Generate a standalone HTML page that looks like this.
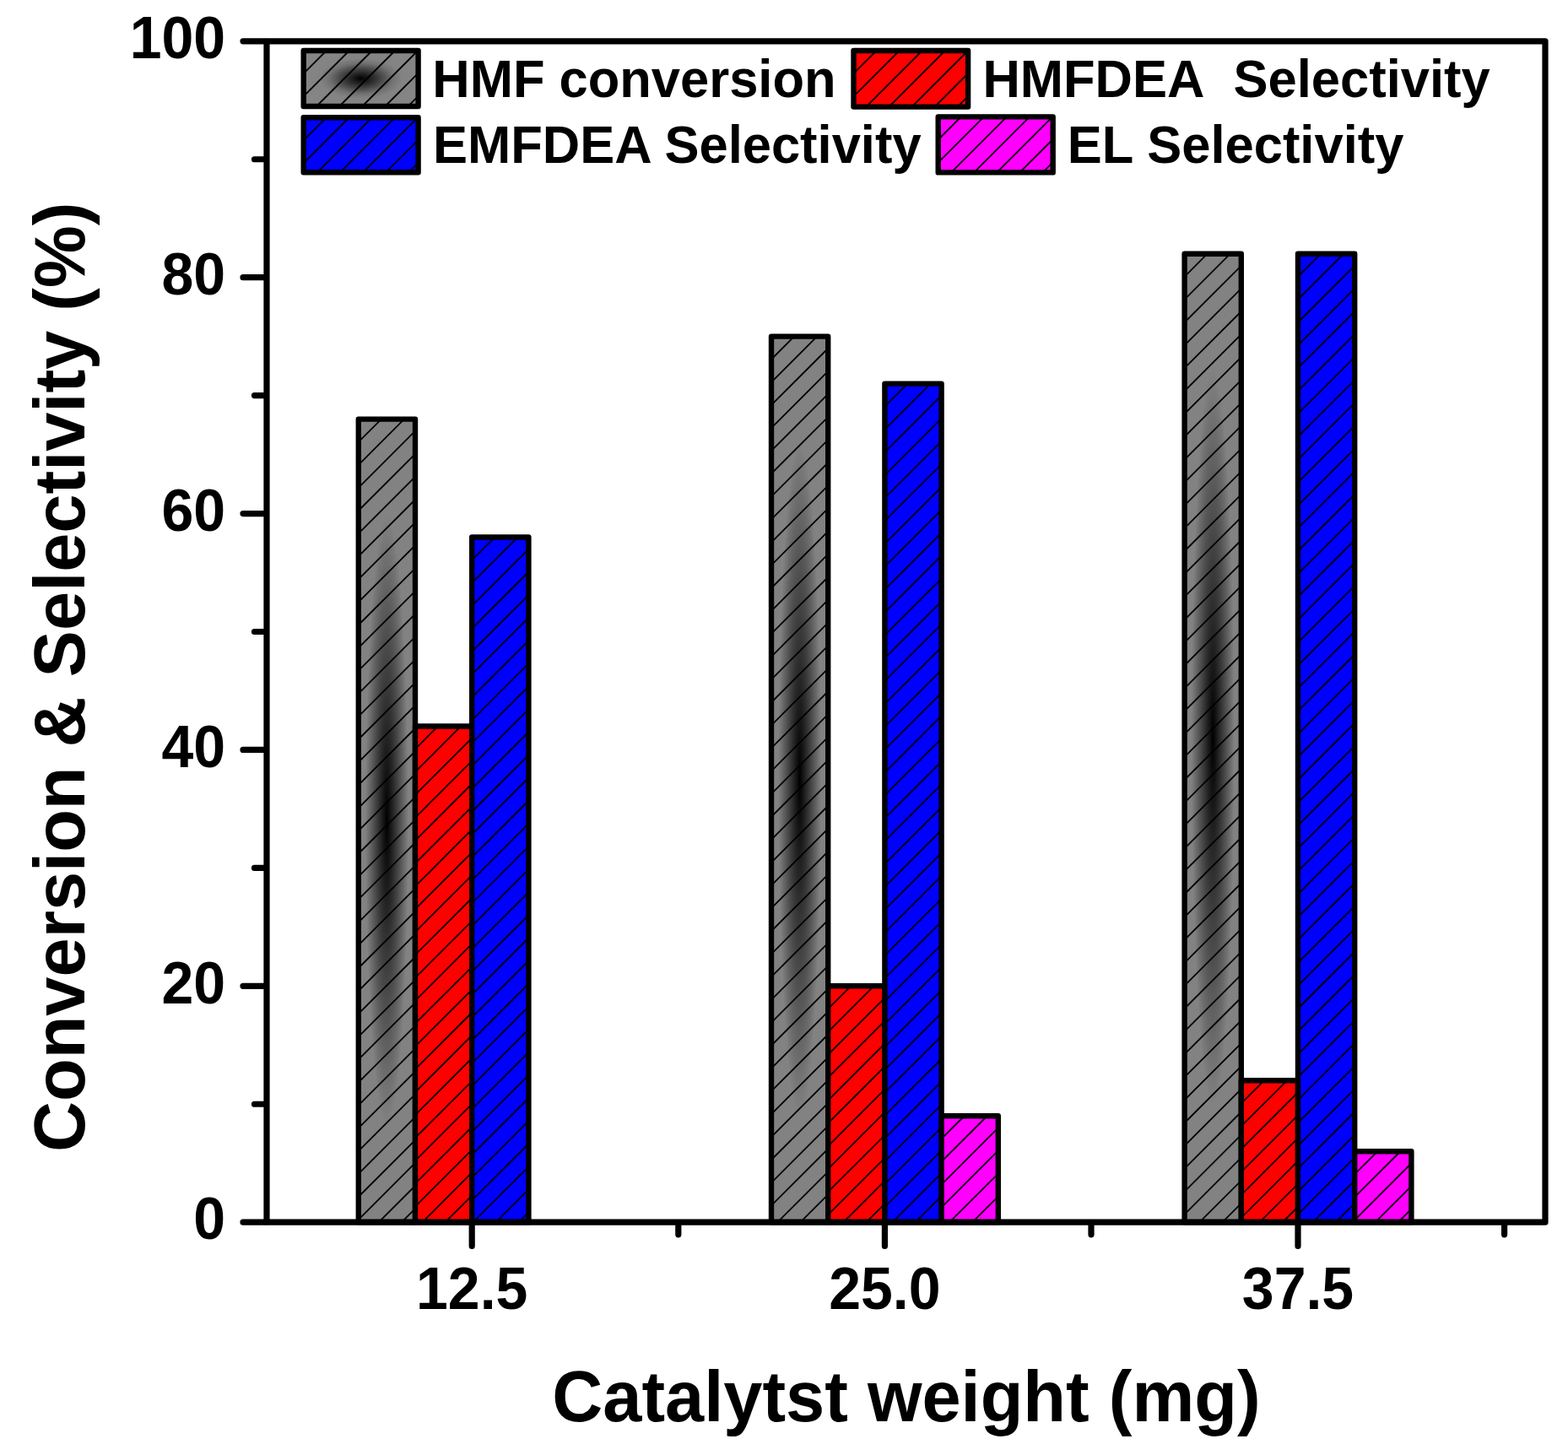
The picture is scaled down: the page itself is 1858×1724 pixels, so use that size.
<!DOCTYPE html>
<html><head><meta charset="utf-8"><title>Conversion &amp; Selectivity vs Catalyst weight</title>
<style>
html,body{margin:0;padding:0;background:#fff;}
svg{display:block;}
text{font-family:"Liberation Sans",Arial,sans-serif;font-weight:bold;fill:#000;}
</style></head><body>
<svg width="1858" height="1724" viewBox="0 0 1858 1724">
<defs>
<radialGradient id="gg" cx="0.5" cy="0.5" r="0.5" gradientUnits="objectBoundingBox" gradientTransform="translate(0.5 0.5) scale(1.0 1.0) translate(-0.5 -0.5)">
<stop offset="0" stop-color="#000"/>
<stop offset="0.38" stop-color="#414141"/>
<stop offset="0.76" stop-color="#828282"/>
<stop offset="1" stop-color="#828282"/>
</radialGradient>
<radialGradient id="gl" cx="0.5" cy="0.5" r="0.5" gradientUnits="objectBoundingBox">
<stop offset="0" stop-color="#000"/>
<stop offset="0.33" stop-color="#414141"/>
<stop offset="0.55" stop-color="#717171"/>
<stop offset="0.72" stop-color="#838383"/>
<stop offset="1" stop-color="#858585"/>
</radialGradient>
</defs>
<rect width="1858" height="1724" fill="#fff"/>
<rect x="424.80" y="496.61" width="67.20" height="951.59" fill="url(#gg)"/>
<path d="M451.90 496.61L424.80 523.71M479.00 496.61L424.80 550.81M424.80 577.91L492.00 510.71M424.80 605.01L492.00 537.81M424.80 632.11L492.00 564.91M424.80 659.21L492.00 592.01M424.80 686.31L492.00 619.11M424.80 713.41L492.00 646.21M424.80 740.51L492.00 673.31M424.80 767.61L492.00 700.41M424.80 794.71L492.00 727.51M424.80 821.81L492.00 754.61M424.80 848.91L492.00 781.71M424.80 876.01L492.00 808.81M424.80 903.11L492.00 835.91M424.80 930.21L492.00 863.01M424.80 957.31L492.00 890.11M424.80 984.41L492.00 917.21M424.80 1011.51L492.00 944.31M424.80 1038.61L492.00 971.41M424.80 1065.71L492.00 998.51M424.80 1092.81L492.00 1025.61M424.80 1119.91L492.00 1052.71M424.80 1147.01L492.00 1079.81M424.80 1174.11L492.00 1106.91M424.80 1201.21L492.00 1134.01M424.80 1228.31L492.00 1161.11M424.80 1255.41L492.00 1188.21M424.80 1282.51L492.00 1215.31M424.80 1309.61L492.00 1242.41M424.80 1336.71L492.00 1269.51M424.80 1363.81L492.00 1296.61M424.80 1390.91L492.00 1323.71M424.80 1418.01L492.00 1350.81M424.80 1445.11L492.00 1377.91M448.81 1448.20L492.00 1405.01M475.91 1448.20L492.00 1432.11" stroke="#000" stroke-width="1.8" fill="none"/>
<rect x="424.80" y="496.61" width="67.20" height="951.59" fill="none" stroke="#000" stroke-width="6.4" stroke-linejoin="round"/>
<rect x="492.00" y="860.45" width="67.20" height="587.75" fill="#ff0000"/>
<path d="M519.10 860.45L492.00 887.55M546.20 860.45L492.00 914.65M492.00 941.75L559.20 874.55M492.00 968.85L559.20 901.65M492.00 995.95L559.20 928.75M492.00 1023.05L559.20 955.85M492.00 1050.15L559.20 982.95M492.00 1077.25L559.20 1010.05M492.00 1104.35L559.20 1037.15M492.00 1131.45L559.20 1064.25M492.00 1158.55L559.20 1091.35M492.00 1185.65L559.20 1118.45M492.00 1212.75L559.20 1145.55M492.00 1239.85L559.20 1172.65M492.00 1266.95L559.20 1199.75M492.00 1294.05L559.20 1226.85M492.00 1321.15L559.20 1253.95M492.00 1348.25L559.20 1281.05M492.00 1375.35L559.20 1308.15M492.00 1402.45L559.20 1335.25M492.00 1429.55L559.20 1362.35M500.45 1448.20L559.20 1389.45M527.55 1448.20L559.20 1416.55M554.65 1448.20L559.20 1443.65" stroke="#000" stroke-width="1.8" fill="none"/>
<rect x="492.00" y="860.45" width="67.20" height="587.75" fill="none" stroke="#000" stroke-width="6.4" stroke-linejoin="round"/>
<rect x="559.20" y="636.55" width="67.20" height="811.65" fill="#0000ff"/>
<path d="M586.30 636.55L559.20 663.65M613.40 636.55L559.20 690.75M559.20 717.85L626.40 650.65M559.20 744.95L626.40 677.75M559.20 772.05L626.40 704.85M559.20 799.15L626.40 731.95M559.20 826.25L626.40 759.05M559.20 853.35L626.40 786.15M559.20 880.45L626.40 813.25M559.20 907.55L626.40 840.35M559.20 934.65L626.40 867.45M559.20 961.75L626.40 894.55M559.20 988.85L626.40 921.65M559.20 1015.95L626.40 948.75M559.20 1043.05L626.40 975.85M559.20 1070.15L626.40 1002.95M559.20 1097.25L626.40 1030.05M559.20 1124.35L626.40 1057.15M559.20 1151.45L626.40 1084.25M559.20 1178.55L626.40 1111.35M559.20 1205.65L626.40 1138.45M559.20 1232.75L626.40 1165.55M559.20 1259.85L626.40 1192.65M559.20 1286.95L626.40 1219.75M559.20 1314.05L626.40 1246.85M559.20 1341.15L626.40 1273.95M559.20 1368.25L626.40 1301.05M559.20 1395.35L626.40 1328.15M559.20 1422.45L626.40 1355.25M560.55 1448.20L626.40 1382.35M587.65 1448.20L626.40 1409.45M614.75 1448.20L626.40 1436.55" stroke="#000" stroke-width="1.8" fill="none"/>
<rect x="559.20" y="636.55" width="67.20" height="811.65" fill="none" stroke="#000" stroke-width="6.4" stroke-linejoin="round"/>
<rect x="914.00" y="398.65" width="67.20" height="1049.55" fill="url(#gg)"/>
<path d="M941.10 398.65L914.00 425.75M968.20 398.65L914.00 452.85M914.00 479.95L981.20 412.75M914.00 507.05L981.20 439.85M914.00 534.15L981.20 466.95M914.00 561.25L981.20 494.05M914.00 588.35L981.20 521.15M914.00 615.45L981.20 548.25M914.00 642.55L981.20 575.35M914.00 669.65L981.20 602.45M914.00 696.75L981.20 629.55M914.00 723.85L981.20 656.65M914.00 750.95L981.20 683.75M914.00 778.05L981.20 710.85M914.00 805.15L981.20 737.95M914.00 832.25L981.20 765.05M914.00 859.35L981.20 792.15M914.00 886.45L981.20 819.25M914.00 913.55L981.20 846.35M914.00 940.65L981.20 873.45M914.00 967.75L981.20 900.55M914.00 994.85L981.20 927.65M914.00 1021.95L981.20 954.75M914.00 1049.05L981.20 981.85M914.00 1076.15L981.20 1008.95M914.00 1103.25L981.20 1036.05M914.00 1130.35L981.20 1063.15M914.00 1157.45L981.20 1090.25M914.00 1184.55L981.20 1117.35M914.00 1211.65L981.20 1144.45M914.00 1238.75L981.20 1171.55M914.00 1265.85L981.20 1198.65M914.00 1292.95L981.20 1225.75M914.00 1320.05L981.20 1252.85M914.00 1347.15L981.20 1279.95M914.00 1374.25L981.20 1307.05M914.00 1401.35L981.20 1334.15M914.00 1428.45L981.20 1361.25M921.35 1448.20L981.20 1388.35M948.45 1448.20L981.20 1415.45M975.55 1448.20L981.20 1442.55" stroke="#000" stroke-width="1.8" fill="none"/>
<rect x="914.00" y="398.65" width="67.20" height="1049.55" fill="none" stroke="#000" stroke-width="6.4" stroke-linejoin="round"/>
<rect x="981.20" y="1168.32" width="67.20" height="279.88" fill="#ff0000"/>
<path d="M1008.30 1168.32L981.20 1195.42M1035.40 1168.32L981.20 1222.52M981.20 1249.62L1048.40 1182.42M981.20 1276.72L1048.40 1209.52M981.20 1303.82L1048.40 1236.62M981.20 1330.92L1048.40 1263.72M981.20 1358.02L1048.40 1290.82M981.20 1385.12L1048.40 1317.92M981.20 1412.22L1048.40 1345.02M981.20 1439.32L1048.40 1372.12M999.42 1448.20L1048.40 1399.22M1026.52 1448.20L1048.40 1426.32" stroke="#000" stroke-width="1.8" fill="none"/>
<rect x="981.20" y="1168.32" width="67.20" height="279.88" fill="none" stroke="#000" stroke-width="6.4" stroke-linejoin="round"/>
<rect x="1048.40" y="454.63" width="67.20" height="993.57" fill="#0000ff"/>
<path d="M1075.50 454.63L1048.40 481.73M1102.60 454.63L1048.40 508.83M1048.40 535.93L1115.60 468.73M1048.40 563.03L1115.60 495.83M1048.40 590.13L1115.60 522.93M1048.40 617.23L1115.60 550.03M1048.40 644.33L1115.60 577.13M1048.40 671.43L1115.60 604.23M1048.40 698.53L1115.60 631.33M1048.40 725.63L1115.60 658.43M1048.40 752.73L1115.60 685.53M1048.40 779.83L1115.60 712.63M1048.40 806.93L1115.60 739.73M1048.40 834.03L1115.60 766.83M1048.40 861.13L1115.60 793.93M1048.40 888.23L1115.60 821.03M1048.40 915.33L1115.60 848.13M1048.40 942.43L1115.60 875.23M1048.40 969.53L1115.60 902.33M1048.40 996.63L1115.60 929.43M1048.40 1023.73L1115.60 956.53M1048.40 1050.83L1115.60 983.63M1048.40 1077.93L1115.60 1010.73M1048.40 1105.03L1115.60 1037.83M1048.40 1132.13L1115.60 1064.93M1048.40 1159.23L1115.60 1092.03M1048.40 1186.33L1115.60 1119.13M1048.40 1213.43L1115.60 1146.23M1048.40 1240.53L1115.60 1173.33M1048.40 1267.63L1115.60 1200.43M1048.40 1294.73L1115.60 1227.53M1048.40 1321.83L1115.60 1254.63M1048.40 1348.93L1115.60 1281.73M1048.40 1376.03L1115.60 1308.83M1048.40 1403.13L1115.60 1335.93M1048.40 1430.23L1115.60 1363.03M1057.53 1448.20L1115.60 1390.13M1084.63 1448.20L1115.60 1417.23M1111.73 1448.20L1115.60 1444.33" stroke="#000" stroke-width="1.8" fill="none"/>
<rect x="1048.40" y="454.63" width="67.20" height="993.57" fill="none" stroke="#000" stroke-width="6.4" stroke-linejoin="round"/>
<rect x="1115.60" y="1322.25" width="67.20" height="125.95" fill="#ff00ff"/>
<path d="M1142.70 1322.25L1115.60 1349.35M1169.80 1322.25L1115.60 1376.45M1115.60 1403.55L1182.80 1336.35M1115.60 1430.65L1182.80 1363.45M1125.15 1448.20L1182.80 1390.55M1152.25 1448.20L1182.80 1417.65M1179.35 1448.20L1182.80 1444.75" stroke="#000" stroke-width="1.8" fill="none"/>
<rect x="1115.60" y="1322.25" width="67.20" height="125.95" fill="none" stroke="#000" stroke-width="6.4" stroke-linejoin="round"/>
<rect x="1403.60" y="300.69" width="67.20" height="1147.51" fill="url(#gg)"/>
<path d="M1430.70 300.69L1403.60 327.79M1457.80 300.69L1403.60 354.89M1403.60 381.99L1470.80 314.79M1403.60 409.09L1470.80 341.89M1403.60 436.19L1470.80 368.99M1403.60 463.29L1470.80 396.09M1403.60 490.39L1470.80 423.19M1403.60 517.49L1470.80 450.29M1403.60 544.59L1470.80 477.39M1403.60 571.69L1470.80 504.49M1403.60 598.79L1470.80 531.59M1403.60 625.89L1470.80 558.69M1403.60 652.99L1470.80 585.79M1403.60 680.09L1470.80 612.89M1403.60 707.19L1470.80 639.99M1403.60 734.29L1470.80 667.09M1403.60 761.39L1470.80 694.19M1403.60 788.49L1470.80 721.29M1403.60 815.59L1470.80 748.39M1403.60 842.69L1470.80 775.49M1403.60 869.79L1470.80 802.59M1403.60 896.89L1470.80 829.69M1403.60 923.99L1470.80 856.79M1403.60 951.09L1470.80 883.89M1403.60 978.19L1470.80 910.99M1403.60 1005.29L1470.80 938.09M1403.60 1032.39L1470.80 965.19M1403.60 1059.49L1470.80 992.29M1403.60 1086.59L1470.80 1019.39M1403.60 1113.69L1470.80 1046.49M1403.60 1140.79L1470.80 1073.59M1403.60 1167.89L1470.80 1100.69M1403.60 1194.99L1470.80 1127.79M1403.60 1222.09L1470.80 1154.89M1403.60 1249.19L1470.80 1181.99M1403.60 1276.29L1470.80 1209.09M1403.60 1303.39L1470.80 1236.19M1403.60 1330.49L1470.80 1263.29M1403.60 1357.59L1470.80 1290.39M1403.60 1384.69L1470.80 1317.49M1403.60 1411.79L1470.80 1344.59M1403.60 1438.89L1470.80 1371.69M1421.39 1448.20L1470.80 1398.79M1448.49 1448.20L1470.80 1425.89" stroke="#000" stroke-width="1.8" fill="none"/>
<rect x="1403.60" y="300.69" width="67.20" height="1147.51" fill="none" stroke="#000" stroke-width="6.4" stroke-linejoin="round"/>
<rect x="1470.80" y="1280.27" width="67.20" height="167.93" fill="#ff0000"/>
<path d="M1497.90 1280.27L1470.80 1307.37M1525.00 1280.27L1470.80 1334.47M1470.80 1361.57L1538.00 1294.37M1470.80 1388.67L1538.00 1321.47M1470.80 1415.77L1538.00 1348.57M1470.80 1442.87L1538.00 1375.67M1492.57 1448.20L1538.00 1402.77M1519.67 1448.20L1538.00 1429.87" stroke="#000" stroke-width="1.8" fill="none"/>
<rect x="1470.80" y="1280.27" width="67.20" height="167.93" fill="none" stroke="#000" stroke-width="6.4" stroke-linejoin="round"/>
<rect x="1538.00" y="300.69" width="67.20" height="1147.51" fill="#0000ff"/>
<path d="M1565.10 300.69L1538.00 327.79M1592.20 300.69L1538.00 354.89M1538.00 381.99L1605.20 314.79M1538.00 409.09L1605.20 341.89M1538.00 436.19L1605.20 368.99M1538.00 463.29L1605.20 396.09M1538.00 490.39L1605.20 423.19M1538.00 517.49L1605.20 450.29M1538.00 544.59L1605.20 477.39M1538.00 571.69L1605.20 504.49M1538.00 598.79L1605.20 531.59M1538.00 625.89L1605.20 558.69M1538.00 652.99L1605.20 585.79M1538.00 680.09L1605.20 612.89M1538.00 707.19L1605.20 639.99M1538.00 734.29L1605.20 667.09M1538.00 761.39L1605.20 694.19M1538.00 788.49L1605.20 721.29M1538.00 815.59L1605.20 748.39M1538.00 842.69L1605.20 775.49M1538.00 869.79L1605.20 802.59M1538.00 896.89L1605.20 829.69M1538.00 923.99L1605.20 856.79M1538.00 951.09L1605.20 883.89M1538.00 978.19L1605.20 910.99M1538.00 1005.29L1605.20 938.09M1538.00 1032.39L1605.20 965.19M1538.00 1059.49L1605.20 992.29M1538.00 1086.59L1605.20 1019.39M1538.00 1113.69L1605.20 1046.49M1538.00 1140.79L1605.20 1073.59M1538.00 1167.89L1605.20 1100.69M1538.00 1194.99L1605.20 1127.79M1538.00 1222.09L1605.20 1154.89M1538.00 1249.19L1605.20 1181.99M1538.00 1276.29L1605.20 1209.09M1538.00 1303.39L1605.20 1236.19M1538.00 1330.49L1605.20 1263.29M1538.00 1357.59L1605.20 1290.39M1538.00 1384.69L1605.20 1317.49M1538.00 1411.79L1605.20 1344.59M1538.00 1438.89L1605.20 1371.69M1555.79 1448.20L1605.20 1398.79M1582.89 1448.20L1605.20 1425.89" stroke="#000" stroke-width="1.8" fill="none"/>
<rect x="1538.00" y="300.69" width="67.20" height="1147.51" fill="none" stroke="#000" stroke-width="6.4" stroke-linejoin="round"/>
<rect x="1605.20" y="1364.24" width="67.20" height="83.96" fill="#ff00ff"/>
<path d="M1632.30 1364.24L1605.20 1391.34M1659.40 1364.24L1605.20 1418.44M1605.20 1445.54L1672.40 1378.34M1629.64 1448.20L1672.40 1405.44M1656.74 1448.20L1672.40 1432.54" stroke="#000" stroke-width="1.8" fill="none"/>
<rect x="1605.20" y="1364.24" width="67.20" height="83.96" fill="none" stroke="#000" stroke-width="6.4" stroke-linejoin="round"/>
<rect x="316.0" y="48.8" width="1515.0" height="1399.4" fill="none" stroke="#000" stroke-width="7.2" stroke-linejoin="round"/>
<path d="M314.0 1448.20H288.0M314.0 1308.26H301.5M314.0 1168.32H288.0M314.0 1028.38H301.5M314.0 888.44H288.0M314.0 748.50H301.5M314.0 608.56H288.0M314.0 468.62H301.5M314.0 328.68H288.0M314.0 188.74H301.5M314.0 48.80H288.0M559.20 1450.2V1476.5M1048.40 1450.2V1476.5M1538.00 1450.2V1476.5M803.80 1450.2V1462.8M1293.00 1450.2V1462.8M1782.60 1450.2V1462.8" stroke="#000" stroke-width="7.2" stroke-linecap="round" fill="none"/>
<text transform="translate(267.1 1468.4) scale(1 1.04)" font-size="68" text-anchor="end">0</text>
<text transform="translate(267.1 1188.5) scale(1 1.04)" font-size="68" text-anchor="end">20</text>
<text transform="translate(267.1 908.6) scale(1 1.04)" font-size="68" text-anchor="end">40</text>
<text transform="translate(267.1 628.8) scale(1 1.04)" font-size="68" text-anchor="end">60</text>
<text transform="translate(267.1 348.9) scale(1 1.04)" font-size="68" text-anchor="end">80</text>
<text transform="translate(267.1 69.0) scale(1 1.04)" font-size="68" text-anchor="end">100</text>
<text transform="translate(559.2 1550.5) scale(1 1.04)" font-size="68" text-anchor="middle">12.5</text>
<text transform="translate(1048.4 1550.5) scale(1 1.04)" font-size="68" text-anchor="middle">25.0</text>
<text transform="translate(1538.0 1550.5) scale(1 1.04)" font-size="68" text-anchor="middle">37.5</text>
<text transform="translate(654.3 1684) scale(1 1.03)" font-size="83">Catalytst weight (mg)</text>
<text transform="translate(99.5 1365) rotate(-90) scale(1 1.03)" font-size="83">Conversion &amp; Selectivity (%)</text>
<rect x="359.70" y="60.00" width="135.90" height="66.00" fill="url(#gl)"/>
<path d="M386.80 60.00L359.70 87.10M413.90 60.00L359.70 114.20M441.00 60.00L375.00 126.00M468.10 60.00L402.10 126.00M495.20 60.00L429.20 126.00M456.30 126.00L495.60 86.70M483.40 126.00L495.60 113.80" stroke="#000" stroke-width="1.8" fill="none"/>
<rect x="359.70" y="60.00" width="135.90" height="66.00" fill="none" stroke="#000" stroke-width="6.4" stroke-linejoin="round"/>
<text transform="translate(512.3 115.0) scale(1 1.03)" font-size="61.5">HMF conversion</text>
<rect x="1011.50" y="60.00" width="135.60" height="66.60" fill="#ff0000"/>
<path d="M1038.60 60.00L1011.50 87.10M1065.70 60.00L1011.50 114.20M1092.80 60.00L1026.20 126.60M1119.90 60.00L1053.30 126.60M1147.00 60.00L1080.40 126.60M1107.50 126.60L1147.10 87.00M1134.60 126.60L1147.10 114.10" stroke="#000" stroke-width="1.8" fill="none"/>
<rect x="1011.50" y="60.00" width="135.60" height="66.60" fill="none" stroke="#000" stroke-width="6.4" stroke-linejoin="round"/>
<text transform="translate(1164.4 115.0) scale(1 1.03)" font-size="61.5">HMFDEA  Selectivity</text>
<rect x="359.70" y="139.20" width="135.90" height="65.00" fill="#0000ff"/>
<path d="M386.80 139.20L359.70 166.30M413.90 139.20L359.70 193.40M441.00 139.20L376.00 204.20M468.10 139.20L403.10 204.20M495.20 139.20L430.20 204.20M457.30 204.20L495.60 165.90M484.40 204.20L495.60 193.00" stroke="#000" stroke-width="1.8" fill="none"/>
<rect x="359.70" y="139.20" width="135.90" height="65.00" fill="none" stroke="#000" stroke-width="6.4" stroke-linejoin="round"/>
<text transform="translate(513.1 193.0) scale(1 1.03)" font-size="61.5">EMFDEA Selectivity</text>
<rect x="1111.70" y="138.40" width="136.00" height="66.00" fill="#ff00ff"/>
<path d="M1138.80 138.40L1111.70 165.50M1165.90 138.40L1111.70 192.60M1193.00 138.40L1127.00 204.40M1220.10 138.40L1154.10 204.40M1247.20 138.40L1181.20 204.40M1208.30 204.40L1247.70 165.00M1235.40 204.40L1247.70 192.10" stroke="#000" stroke-width="1.8" fill="none"/>
<rect x="1111.70" y="138.40" width="136.00" height="66.00" fill="none" stroke="#000" stroke-width="6.4" stroke-linejoin="round"/>
<text transform="translate(1264.7 193.0) scale(1 1.03)" font-size="61.5">EL Selectivity</text>
</svg>
</body></html>
